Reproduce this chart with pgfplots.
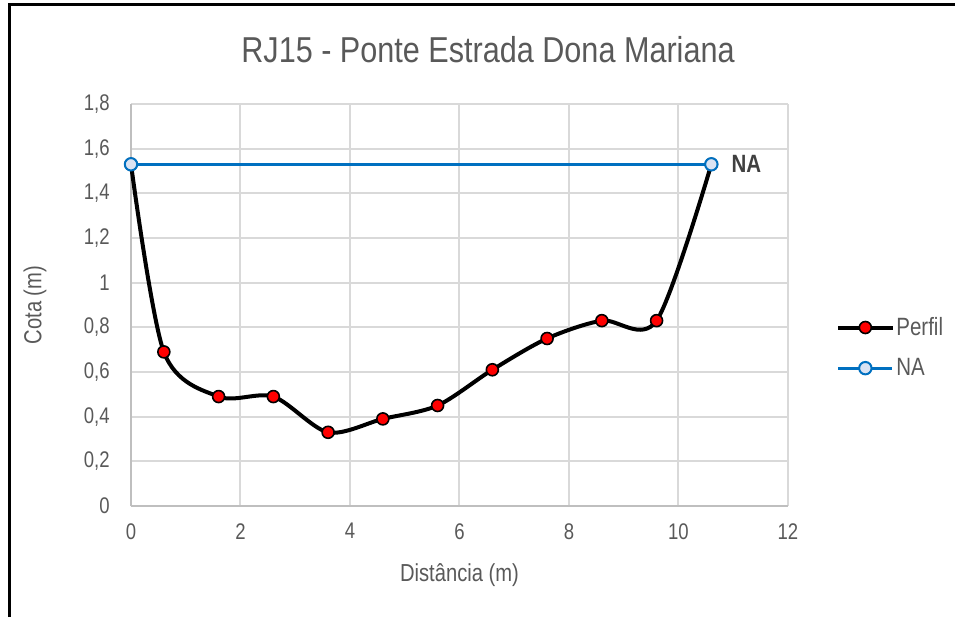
\documentclass[border=0pt]{standalone}
\usepackage{fontspec}
\setmainfont{Liberation Sans}[FakeStretch=0.82]
\newfontfamily\titlefont{Liberation Sans}[FakeStretch=0.85]
\usepackage{pgfplots}
\pgfplotsset{compat=1.18}
\definecolor{txt}{HTML}{595959}
\definecolor{gridc}{HTML}{D9D9D9}
\definecolor{axc}{HTML}{BFBFBF}
\definecolor{nablue}{HTML}{0070C0}
\definecolor{nafill}{HTML}{DAE3F3}
\begin{document}
\begin{tikzpicture}
\useasboundingbox (0,0) rectangle (477.5pt,308.5pt);
\draw[line width=1.5pt] (4.5pt,0) -- (4.5pt,306pt) -- (477.5pt,306pt);
\node[font=\titlefont\fontsize{18}{20}\selectfont, text=txt] at (244pt,283.5pt) {RJ15 - Ponte Estrada Dona Mariana};
\begin{axis}[
  at={(65.5pt,55.5pt)}, anchor=south west,
  scale only axis, width=328.5pt, height=201pt,
  xmin=0, xmax=12, ymin=0, ymax=1.8,
  xtick={0,2,4,6,8,10,12},
  ytick={0,0.2,0.4,0.6,0.8,1,1.2,1.4,1.6,1.8},
  grid=major, major grid style={draw=gridc, line width=1pt},
  axis lines*=left, axis line style={-, draw=axc, line width=1pt},
  major tick length=0pt,
  /pgf/number format/.cd, use comma, fixed, assume math mode=true,
  /pgfplots/.cd,
  tick label style={font=\fontsize{11.3}{13}\selectfont, text=txt},
  yticklabel style={anchor=east, inner sep=0pt, xshift=-10.5pt},
  xticklabel style={anchor=north, inner sep=0pt, yshift=-8.5pt},
  xlabel={Distância (m)}, ylabel={Cota (m)},
  label style={font=\fontsize{12.3}{14}\selectfont, text=txt},
  xlabel style={at={(axis description cs:0.5,-0.172)}, anchor=center},
  ylabel style={at={(axis description cs:-0.146,0.5)}, anchor=center},
  clip=false,
  legend style={draw=none, fill=none, at={(axis description cs:1.073,0.394)}, anchor=west,
    inner sep=0pt, row sep=8pt, font=\fontsize{12.5}{14}\selectfont, text=txt,
    nodes={inner sep=1pt}},
  legend cell align=left,
  legend image code/.code={\draw[mark repeat=2,mark phase=2,#1] plot coordinates {(0pt,0pt) (13.5pt,0pt) (27pt,0pt)};},
]
\addplot[black, line width=2pt, smooth, mark=*, mark size=3pt,
  mark options={fill=red, draw=black, line width=0.8pt}]
  coordinates {(0,1.53) (0.6,0.69) (1.6,0.49) (2.6,0.49) (3.6,0.33) (4.6,0.39) (5.6,0.45) (6.6,0.61) (7.6,0.75) (8.6,0.83) (9.6,0.83) (10.6,1.53)};
\addlegendentry{Perfil}
\addplot[nablue, line width=1.5pt, mark=*, mark size=3.1pt,
  mark options={fill=nafill, draw=nablue, line width=1pt}]
  coordinates {(0,1.53) (10.6,1.53)}
  node[pos=1, anchor=west, xshift=6pt, font=\fontsize{12.5}{14}\selectfont\bfseries, text=black!75] {NA};
\addlegendentry{NA}
\end{axis}
\end{tikzpicture}
\end{document}
